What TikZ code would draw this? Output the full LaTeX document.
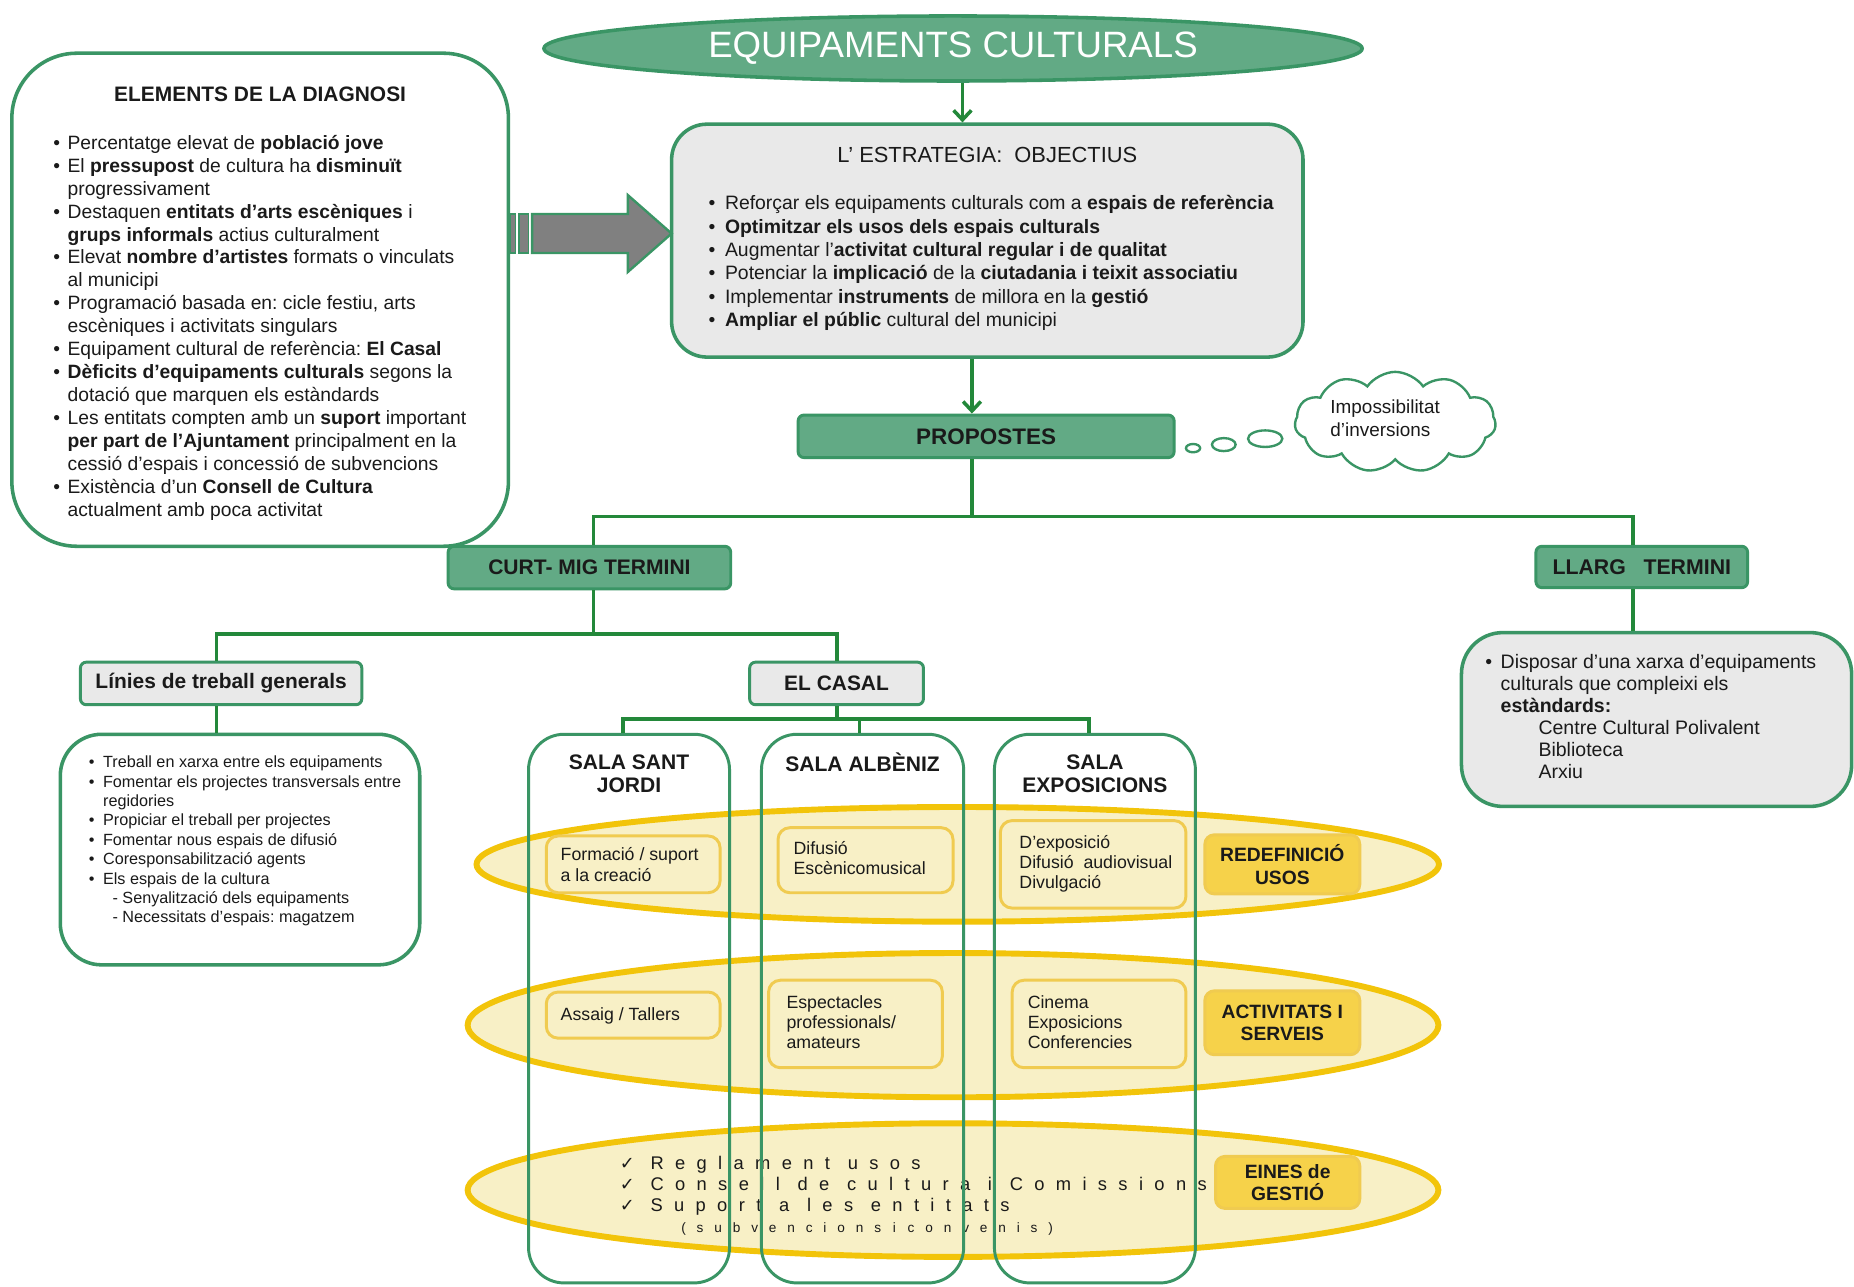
\documentclass[tikz,border=0pt]{standalone}
\usepackage{fontspec}
\setmainfont{Liberation Sans}
\newfontfamily\dejavu{DejaVu Sans}
\newfontfamily\spaced[LetterSpace=62]{Liberation Sans}
\newfontfamily\spacedsm[LetterSpace=80]{Liberation Sans}
\usetikzlibrary{shapes.geometric,shapes.symbols,arrows.meta}
\frenchspacing

\definecolor{gline}{HTML}{23883A}
\definecolor{gbord}{HTML}{3A9565}
\definecolor{gfill}{HTML}{62AA85}
\definecolor{grayf}{HTML}{E9E9E9}
\definecolor{yfill}{HTML}{F8F0C6}
\definecolor{ybord}{HTML}{F2C40A}
\definecolor{ybox}{HTML}{F6D24A}
\definecolor{ibord}{HTML}{F0CB50}
\definecolor{arrgray}{HTML}{808080}
\definecolor{txt}{HTML}{1A1A1A}

\newcommand{\bl}[1]{\makebox[#1][l]{\textbullet}}
\newcommand{\chk}{\makebox[26pt][l]{\dejavu\fontsize{15}{17.7}\selectfont ✓}}
\newcommand{\ws}{\hspace{15pt}}
\newcommand{\wss}{\hspace{10pt}}

\tikzset{
  conn/.style={draw=gline, line width=3pt},
  arr/.style={conn, -{Straight Barb[length=8pt,width=15pt]}},
  bigbox/.style={rectangle, draw=gbord, line width=3pt, inner sep=0pt},
  gbox/.style={rectangle, draw=gbord, line width=2.5pt, fill=gfill, rounded corners=5pt, inner sep=0pt, font=\fontsize{17.8}{20}\selectfont\bfseries, text=txt},
  lbox/.style={rectangle, draw=gbord, line width=2.5pt, fill=grayf, rounded corners=5pt, inner sep=0pt, font=\fontsize{17.7}{20}\selectfont\bfseries, text=txt},
  colbox/.style={rectangle, draw=gbord, line width=2.5pt, rounded corners=30pt, inner sep=0pt},
  coltit/.style={font=\fontsize{17.8}{19.5}\selectfont\bfseries, align=center, text=txt, inner sep=0pt},
  yell/.style={ellipse, draw=ybord, line width=5pt, fill=yfill, inner sep=0pt},
  ibox/.style={rectangle, draw=ibord, line width=2.5pt, fill=yfill, rounded corners=10pt, inner sep=0pt},
  ybx/.style={rectangle, draw=ibord, line width=2.5pt, fill=ybox, rounded corners=8pt, inner sep=0pt, align=center, font=\fontsize{16.3}{19}\selectfont\bfseries, text=txt},
  txtn/.style={inner sep=0pt, anchor=north west, align=left, text=txt},
  itxt/.style={txtn, font=\fontsize{15}{17}\selectfont},
  bubble/.style={ellipse, draw=gbord, line width=2pt, fill=white, inner sep=0pt},
}

\begin{document}
\begin{tikzpicture}[x=1pt,y=-1pt]
\useasboundingbox (0,0) rectangle (1568,1088);
\fill[white] (0,0) rectangle (1568,1088);

% ---------- top ----------
\node[ellipse, draw=gbord, line width=3pt, fill=gfill, minimum width=692, minimum height=55, inner sep=0pt,
      text=white, font=\fontsize{31}{34}\selectfont] (eq) at (806,41) {EQUIPAMENTS CULTURALS};

\node[bigbox, fill=grayf, rounded corners=30pt, minimum width=534, minimum height=197] (obj) at (835,203.5) {};
\node[font=\fontsize{18.5}{20}\selectfont, text=txt, inner sep=0pt] (objtit) at (835,131) {L’ ESTRATEGIA:\ \ OBJECTIUS};
\node[txtn, font=\fontsize{16.4}{19.8}\selectfont] (objtxt) at (599,165.1) {%
\bl{14pt}Reforçar els equipaments culturals com a \textbf{espais de referència}\\
\bl{14pt}\textbf{Optimitzar els usos dels espais culturals}\\
\bl{14pt}Augmentar l’\textbf{activitat cultural regular i de qualitat}\\
\bl{14pt}Potenciar la \textbf{implicació} de la \textbf{ciutadania i teixit associatiu}\\
\bl{14pt}Implementar \textbf{instruments} de millora en la \textbf{gestió}\\
\bl{14pt}\textbf{Ampliar el públic} cultural del municipi};

\draw[arr] (814,0 |- eq.south) -- (814,0 |- obj.north);

% ---------- diagnosi ----------
\node[bigbox, fill=white, rounded corners=55pt, minimum width=420, minimum height=417] (elem) at (220,253.5) {};
\node[font=\fontsize{17.7}{20}\selectfont\bfseries, text=txt, inner sep=0pt] (elemtit) at (220,80) {ELEMENTS DE LA DIAGNOSI};
\node[txtn, font=\fontsize{16.3}{19.4}\selectfont] (elemtxt) at (45,114.1) {%
\bl{12pt}Percentatge elevat de \textbf{població jove}\\
\bl{12pt}El \textbf{pressupost} de cultura ha \textbf{disminuït}\\
\hspace*{12pt}progressivament\\
\bl{12pt}Destaquen \textbf{entitats d’arts escèniques} i\\
\hspace*{12pt}\textbf{grups informals} actius culturalment\\
\bl{12pt}Elevat \textbf{nombre d’artistes} formats o vinculats\\
\hspace*{12pt}al municipi\\
\bl{12pt}Programació basada en: cicle festiu, arts\\
\hspace*{12pt}escèniques i activitats singulars\\
\bl{12pt}Equipament cultural de referència: \textbf{El Casal}\\
\bl{12pt}\textbf{Dèficits d’equipaments culturals} segons la\\
\hspace*{12pt}dotació que marquen els estàndards\\
\bl{12pt}Les entitats compten amb un \textbf{suport} important\\
\hspace*{12pt}\textbf{per part de l’Ajuntament} principalment en la\\
\hspace*{12pt}cessió d’espais i concessió de subvencions\\
\bl{12pt}Existència d’un \textbf{Consell de Cultura}\\
\hspace*{12pt}actualment amb poca activitat};

% fat gray arrow
\filldraw[fill=arrgray, draw=gbord, line width=2pt] (450,181) -- (531,181) -- (531,165) -- (568,197.5) -- (531,230) -- (531,214) -- (450,214) -- cycle;
\filldraw[fill=arrgray, draw=gbord, line width=1.5pt] (431,181) rectangle (436,214);
\filldraw[fill=arrgray, draw=gbord, line width=1.5pt] (439,181) rectangle (447,214);

% ---------- propostes ----------
\node[gbox, minimum width=318, minimum height=36, font=\fontsize{19}{21}\selectfont\bfseries] (prop) at (834,369) {PROPOSTES};
\draw[arr] (822,0 |- obj.south) -- (822,0 |- prop.north);

\node[bubble, minimum width=12, minimum height=7] (b1) at (1009,379) {};
\node[bubble, minimum width=20, minimum height=11] (b2) at (1035,376) {};
\node[bubble, minimum width=29, minimum height=14] (b3) at (1070,371) {};
\node[cloud, cloud puffs=11, cloud puff arc=110, aspect=2, draw=gbord, line width=2pt, fill=white,
      minimum width=170, minimum height=85, inner sep=0pt] (cloud) at (1180,357) {};
\node[txtn, font=\fontsize{16}{19}\selectfont] (cloudtxt) at (1125,338.2) {Impossibilitat\\d’inversions};

% ---------- terms ----------
\node[gbox, minimum width=239, minimum height=36] (curt) at (498.5,480) {CURT- MIG TERMINI};
\node[gbox, minimum width=179, minimum height=35, font=\fontsize{18}{20}\selectfont\bfseries] (llarg) at (1388.5,479.5) {LLARG\ \ \ TERMINI};

\coordinate (jp) at (822,437);
\draw[conn] (822,0 |- prop.south) -- (jp);
\draw[conn] (502,0 |- curt.north) -- (502,437) -- (1381,437) -- (1381,0 |- llarg.north);

\node[bigbox, fill=grayf, rounded corners=35pt, minimum width=330, minimum height=147] (llargtx) at (1401,608.5) {};
\draw[conn] (1381,0 |- llarg.south) -- (1381,0 |- llargtx.north);
\node[txtn, font=\fontsize{16.5}{18.6}\selectfont] (llargtxt) at (1256,553.1) {%
\bl{13pt}Disposar d’una xarxa d’equipaments\\
\hspace*{13pt}culturals que compleixi els\\
\hspace*{13pt}\textbf{estàndards:}\\
\hspace*{45pt}Centre Cultural Polivalent\\
\hspace*{45pt}Biblioteca\\
\hspace*{45pt}Arxiu};

% ---------- curt-mig branch ----------
\node[lbox, minimum width=238, minimum height=36] (linies) at (187,578) {Línies de treball generals};
\node[lbox, minimum width=147, minimum height=36] (casal) at (707.5,578) {EL CASAL};
\draw[conn] (502,0 |- curt.south) -- (502,536);
\draw[conn] (183,0 |- linies.north) -- (183,536) -- (708,536) -- (708,0 |- casal.north);

\node[bigbox, fill=white, rounded corners=35pt, minimum width=304, minimum height=195] (lintx) at (203,718.5) {};
\draw[conn] (183,0 |- linies.south) -- (183,0 |- lintx.north);
\node[txtn, font=\fontsize{13.7}{16.4}\selectfont] (lintxt) at (75,639.1) {%
\bl{12pt}Treball en xarxa entre els equipaments\\
\bl{12pt}Fomentar els projectes transversals entre\\
\hspace*{12pt}regidories\\
\bl{12pt}Propiciar el treball per projectes\\
\bl{12pt}Fomentar nous espais de difusió\\
\bl{12pt}Coresponsabilització agents\\
\bl{12pt}Els espais de la cultura\\
\hspace*{20pt}- Senyalització dels equipaments\\
\hspace*{20pt}- Necessitats d’espais: magatzem};

% ---------- yellow bands ----------
\node[yell, minimum width=814, minimum height=97] (e1) at (810,731) {};
\node[yell, minimum width=821, minimum height=122] (e2) at (806,867) {};
\node[yell, minimum width=821, minimum height=113] (e3) at (806,1006.5) {};

% row 1
\node[ibox, minimum width=147, minimum height=48] (fsb) at (535.5,731) {};
\node[itxt, font=\fontsize{15}{18}\selectfont] (fsbt) at (474,716.6) {Formació / suport\\a la creació};
\node[ibox, minimum width=148, minimum height=55] (dif) at (732,727.5) {};
\node[itxt] (dift) at (671,711.6) {Difusió\\Escènicomusical};
\node[ibox, minimum width=157, minimum height=74] (dexp) at (924.5,731) {};
\node[itxt] (dexpt) at (862,706.6) {D’exposició\\Difusió\ \ audiovisual\\Divulgació};
\node[ybx, minimum width=131, minimum height=50] (red) at (1084.5,731) {REDEFINICIÓ\\USOS};

% row 2
\node[ibox, minimum width=147, minimum height=39] (assaig) at (535.5,858.5) {};
\node[itxt] (assaigt) at (474,851.6) {Assaig / Tallers};
\node[ibox, minimum width=147, minimum height=74] (espec) at (723.5,866) {};
\node[itxt] (espect) at (665,841.6) {Espectacles\\professionals/\\amateurs};
\node[ibox, minimum width=147, minimum height=74] (cine) at (929.5,866) {};
\node[itxt] (cinet) at (869,841.6) {Cinema\\Exposicions\\Conferencies};
\node[ybx, minimum width=131, minimum height=54] (act) at (1084.5,865) {ACTIVITATS I\\SERVEIS};

% row 3
\node[ybx, minimum width=122, minimum height=44] (eines) at (1089,1000) {EINES de\\GESTIÓ};
\node[txtn, font=\fontsize{15.5}{17.7}\selectfont] (einest) at (524,977.4) {%
\chk{\spaced Reglament\ws usos}\\
\chk{\spaced Consell\ws de\ws cultura\ws i\ws Comissions}\\
\chk{\spaced Suport\ws a\ws les\ws entitats}\\
\hspace*{52pt}{\fontsize{11.5}{17.7}\selectfont\spacedsm (subvencions\wss i\wss convenis)}};

% ---------- columns ----------
\node[colbox, minimum width=170, minimum height=464] (col1) at (532,853) {};
\node[colbox, minimum width=171, minimum height=464] (col2) at (729.5,853) {};
\node[colbox, minimum width=170, minimum height=464] (col3) at (926,853) {};
\node[coltit] (c1t) at (532,654.5) {SALA SANT\\JORDI};
\node[coltit] (c2t) at (729.5,645) {SALA ALBÈNIZ};
\node[coltit] (c3t) at (926,654.5) {SALA\\EXPOSICIONS};

\coordinate (jc) at (708,608);
\draw[conn] (708,0 |- casal.south) -- (jc);
\draw[conn] (527,0 |- col1.north) -- (527,608) -- (921,608) -- (921,0 |- col3.north);
\draw[conn] (727,608) -- (727,0 |- col2.north);
\end{tikzpicture}
\end{document}
